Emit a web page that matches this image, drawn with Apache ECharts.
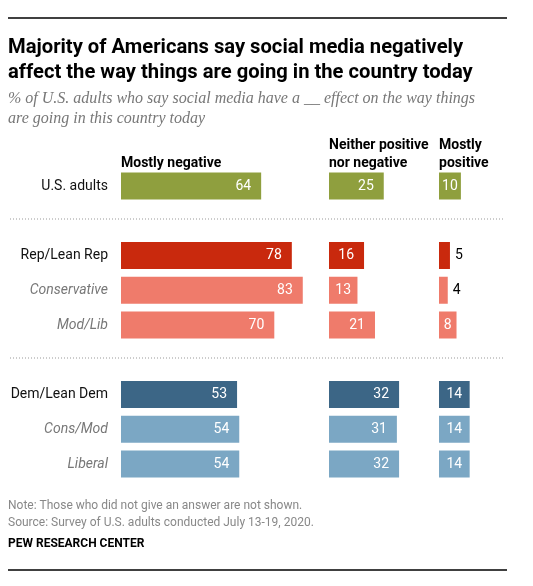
<!DOCTYPE html>
<html>
<head>
<meta charset="utf-8">
<script src="https://cdn.jsdelivr.net/npm/echarts@6/dist/echarts.min.js"></script>
<style>
html,body{margin:0;padding:0;background:#fff;}
#chart{width:533px;height:586px;}
</style>
</head>
<body>
<div id="chart"></div>
<script>
// ---- data ----
var groups = [
  ["U.S. adults"],
  ["Rep/Lean Rep", "Conservative", "Mod/Lib"],
  ["Dem/Lean Dem", "Cons/Mod", "Liberal"]
];
var subgroupRows = ["Conservative", "Mod/Lib", "Cons/Mod", "Liberal"];
var columnHeaders = ["Mostly negative", "Neither positive\nnor negative", "Mostly\npositive"];
var mostlyNegative = [64, 78, 83, 70, 53, 54, 54];
var neither = [25, 16, 13, 21, 32, 31, 32];
var mostlyPositive = [10, 5, 4, 8, 14, 14, 14];
var rowColors = ["#8f9f3e", "#c9290d", "#ef7b6b", "#ef7b6b", "#3c6686", "#7ba7c4", "#7ba7c4"];

// ---- build category list with gaps between groups ----
var categories = [];
var rowIndexOfData = [];
groups.forEach(function (g, gi) {
  if (gi > 0) categories.push(" ".repeat(gi));
  g.forEach(function (name) { rowIndexOfData.push(categories.length); categories.push(name); });
});

function buildData(values) {
  var arr = categories.map(function () { return null; });
  values.forEach(function (v, i) {
    var small = v < 15;
    var tiny = v < 6;
    arr[rowIndexOfData[i]] = {
      value: v,
      itemStyle: { color: rowColors[i] },
      label: tiny ? { position: "right", distance: 5, color: "#000" }
           : (small ? { position: "inside" } : { position: "insideRight", distance: 10 })
    };
  });
  return arr;
}

var scale = 2.19; // px per percentage point
var rowH = 34.75;
var gridTop = 186 - rowH / 2;
var gridH = rowH * categories.length;
var cols = [
  { left: 121, max: 100 },
  { left: 329, max: 50 },
  { left: 439, max: 40 }
];
var seriesValues = [mostlyNegative, neither, mostlyPositive];

var grids = [], xAxes = [], yAxes = [], series = [];
cols.forEach(function (c, i) {
  grids.push({ left: c.left, top: gridTop, width: c.max * scale, height: gridH, containLabel: false });
  xAxes.push({ type: "value", gridIndex: i, min: 0, max: c.max, show: false });
  yAxes.push({
    type: "category", gridIndex: i, data: categories, inverse: true,
    axisLine: { show: false }, axisTick: { show: false }, splitLine: { show: false },
    axisLabel: i === 0 ? {
      show: true, margin: 13, fontFamily: "Roboto", fontSize: 14,
      formatter: function (v) {
        if (!v.trim()) return "";
        return subgroupRows.indexOf(v) >= 0 ? "{sub|" + v + "}" : "{main|" + v + "}";
      },
      rich: {
        main: { color: "#111", fontFamily: "Roboto", fontSize: 14 },
        sub: { color: "#777", fontStyle: "italic", fontFamily: "Roboto", fontSize: 14 }
      }
    } : { show: false }
  });
  series.push({
    type: "bar", xAxisIndex: i, yAxisIndex: i, barWidth: 27,
    data: buildData(seriesValues[i]),
    label: { show: true, color: "#fff", fontFamily: "Roboto", fontSize: 14 },
    silent: true, animation: false
  });
});

var headerText = cols.map(function (c, i) {
  var lines = columnHeaders[i].split("\n");
  return {
    type: "text", left: c.left, top: 172 - lines.length * 18,
    style: { text: columnHeaders[i], fill: "#000", font: "bold 14px Roboto", lineHeight: 18 }
  };
});

var dotted = function (y) {
  return { type: "line", shape: { x1: 10, y1: y, x2: 505, y2: y },
    style: { stroke: "#999", lineWidth: 1, lineDash: [1, 2] } };
};

var chart = echarts.init(document.getElementById("chart"), null, { renderer: "canvas" });
chart.setOption({
  animation: false,
  backgroundColor: "#fff",
  grid: grids,
  xAxis: xAxes,
  yAxis: yAxes,
  series: series,
  graphic: [
    { type: "line", shape: { x1: 8, y1: 18, x2: 507, y2: 18 }, style: { stroke: "#000", lineWidth: 1.5 } },
    { type: "text", left: 8, top: 35, style: { text: "Majority of Americans say social media negatively\naffect the way things are going in the country today", fill: "#000", font: "bold 20.2px Roboto", lineHeight: 25 } },
    { type: "text", left: 8, top: 89, style: { text: "% of U.S. adults who say social media have a __ effect on the way things\nare going in this country today", fill: "#777", font: "italic 16px 'Liberation Serif'", lineHeight: 20 } },
    dotted(219), dotted(358),
    { type: "text", left: 8, top: 497, style: { text: "Note: Those who did not give an answer are not shown.\nSource: Survey of U.S. adults conducted July 13-19, 2020.", fill: "#888", font: "12px Roboto", lineHeight: 17 } },
    { type: "text", left: 8, top: 538, style: { text: "PEW RESEARCH CENTER", fill: "#000", font: "bold 12px Roboto" } },
    { type: "line", shape: { x1: 8, y1: 570, x2: 507, y2: 570 }, style: { stroke: "#000", lineWidth: 1.5 } }
  ].concat(headerText)
});
</script>
</body>
</html>
